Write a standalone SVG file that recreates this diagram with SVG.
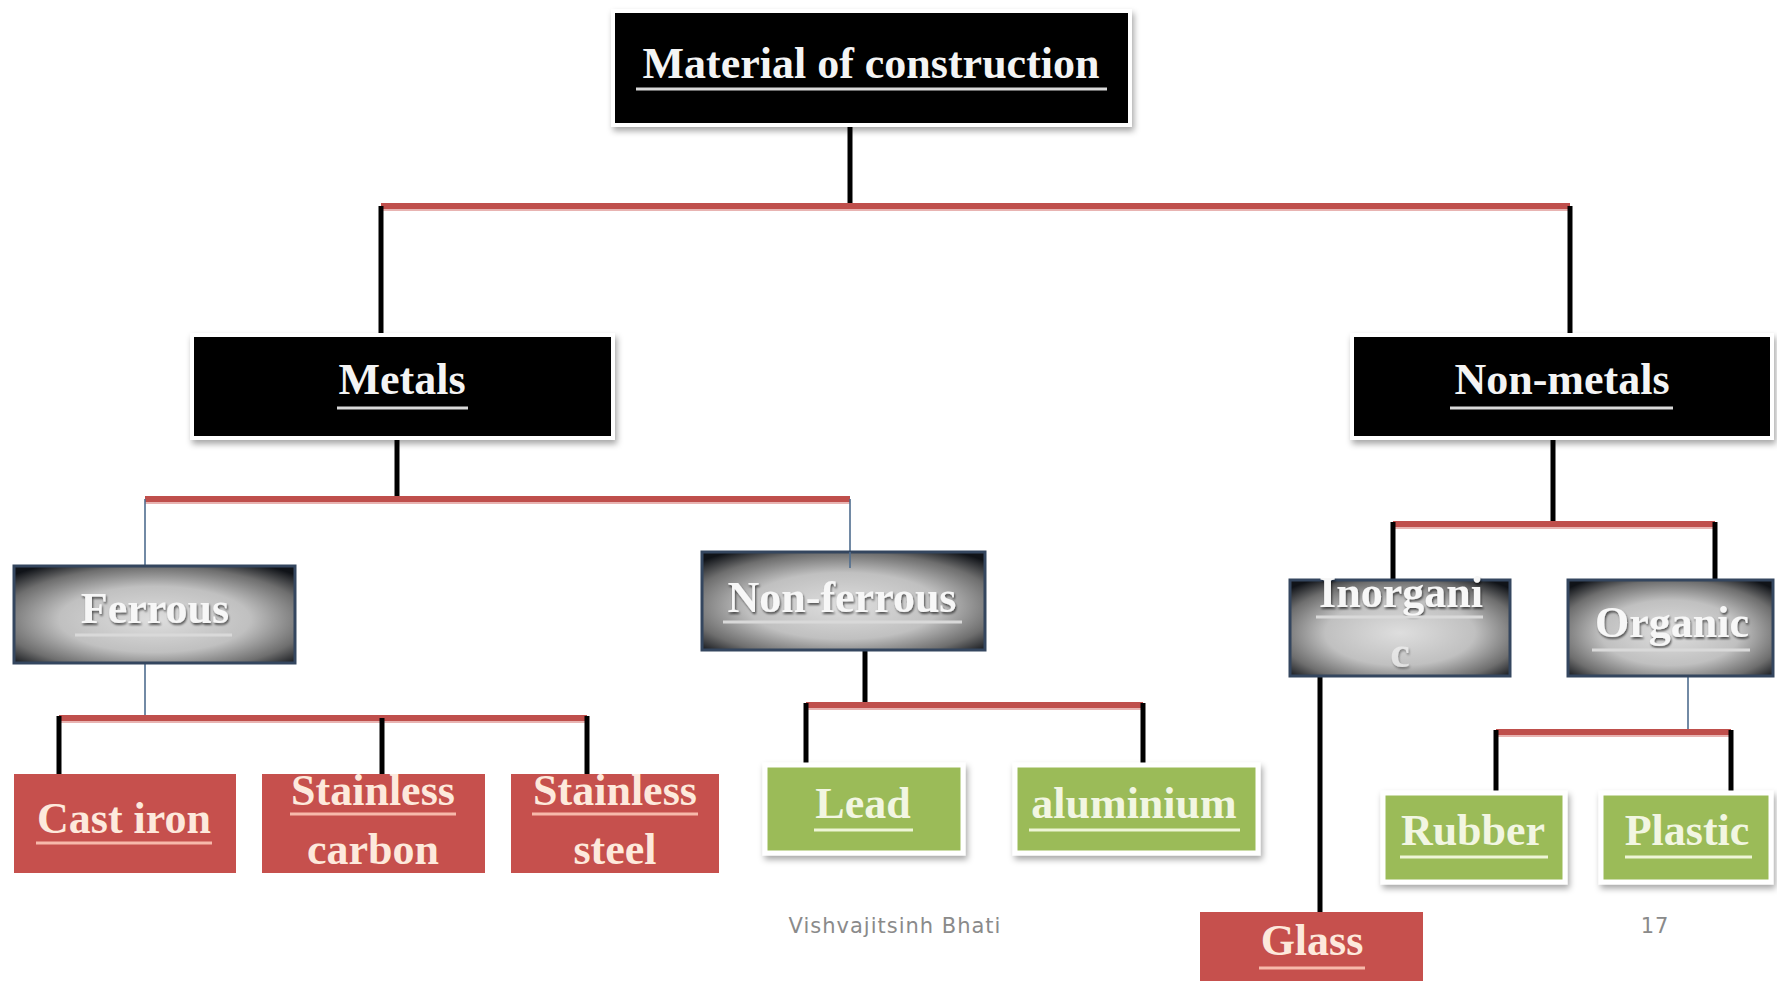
<svg xmlns="http://www.w3.org/2000/svg" width="1777" height="981" viewBox="0 0 1777 981">
<defs>
<radialGradient id="grad" cx="50%" cy="55%" r="68%" fx="50%" fy="55%">
<stop offset="0" stop-color="#dedede"/>
<stop offset="0.5" stop-color="#c0c0c0"/>
<stop offset="0.8" stop-color="#6e6e6e"/>
<stop offset="1" stop-color="#101318"/>
</radialGradient>
<filter id="shadow" x="-10%" y="-10%" width="120%" height="130%">
<feDropShadow dx="2" dy="4" stdDeviation="3" flood-color="#000" flood-opacity="0.35"/>
</filter>
<filter id="tshadow" x="-10%" y="-20%" width="120%" height="150%">
<feDropShadow dx="1" dy="2" stdDeviation="1" flood-color="#000" flood-opacity="0.6"/>
</filter>
</defs>
<style>
.lbl{font-family:"Liberation Serif","Times New Roman",serif;font-weight:bold;font-size:44px;text-anchor:middle}
.w{fill:#f4f4f4}
.g{fill:#f2f6e2}
.r{fill:#fde9dc}
.gt{fill:#f7f7f7;filter:url(#tshadow)}
.blk{fill:#000;stroke:#fff;stroke-width:4;filter:url(#shadow)}
.grd{fill:url(#grad);stroke:#34465f;stroke-width:3}
.red{fill:#c6504d}
.grn{fill:#9bbb59;stroke:#fff;stroke-width:5;filter:url(#shadow)}
.ul{stroke-width:3;fill:none}
.ulw{stroke:#d9d9d9}
.ulg{stroke:#eef5d6}
.ulr{stroke:#f7b9ab}
.redl{stroke:#bf4f4c;stroke-width:6;fill:none}
.redl2{stroke:#e8b4b2;stroke-width:2;fill:none}
.blkl{stroke:#000;stroke-width:5;fill:none}
.thin{stroke:#4f6d8f;stroke-width:1.6;fill:none}
.foot{font-family:"DejaVu Sans","Liberation Sans",sans-serif;font-size:21px;letter-spacing:1px;fill:#8a8a8a;text-anchor:middle}
</style>
<rect width="1777" height="981" fill="#fff"/>

<g id="connectors">
<line class="blkl" x1="850" y1="125" x2="850" y2="206"/>
<line class="redl2" x1="381" y1="210" x2="1570" y2="210"/>
<line class="redl" x1="381" y1="206" x2="1570" y2="206"/>
<line class="blkl" x1="381" y1="206" x2="381" y2="334"/>
<line class="blkl" x1="1570" y1="206" x2="1570" y2="334"/>

<line class="blkl" x1="397" y1="438" x2="397" y2="499"/>
<line class="redl2" x1="145" y1="503" x2="850" y2="503"/>
<line class="redl" x1="145" y1="499" x2="850" y2="499"/>
<line class="thin" x1="145" y1="499" x2="145" y2="566"/>
<line class="thin" x1="850" y1="499" x2="850" y2="570"/>
<line class="thin" x1="145" y1="663" x2="145" y2="718"/>

<line class="redl2" x1="59" y1="722" x2="587" y2="722"/>
<line class="redl" x1="59" y1="718" x2="587" y2="718"/>
<line class="blkl" x1="59" y1="716" x2="59" y2="774"/>
<line class="blkl" x1="382" y1="718" x2="382" y2="774"/>
<line class="blkl" x1="587" y1="716" x2="587" y2="774"/>

<line class="blkl" x1="865" y1="650" x2="865" y2="705"/>
<line class="redl2" x1="806" y1="709" x2="1143" y2="709"/>
<line class="redl" x1="806" y1="705" x2="1143" y2="705"/>
<line class="blkl" x1="806" y1="703" x2="806" y2="765"/>
<line class="blkl" x1="1143" y1="703" x2="1143" y2="765"/>

<line class="blkl" x1="1553" y1="438" x2="1553" y2="524"/>
<line class="redl2" x1="1393" y1="528" x2="1715" y2="528"/>
<line class="redl" x1="1393" y1="524" x2="1715" y2="524"/>
<line class="blkl" x1="1393" y1="522" x2="1393" y2="580"/>
<line class="blkl" x1="1715" y1="522" x2="1715" y2="580"/>

<line class="blkl" x1="1320" y1="676" x2="1320" y2="912"/>

<line class="thin" x1="1688" y1="676" x2="1688" y2="732"/>
<line class="redl2" x1="1496" y1="736" x2="1731" y2="736"/>
<line class="redl" x1="1496" y1="732" x2="1731" y2="732"/>
<line class="blkl" x1="1496" y1="730" x2="1496" y2="792"/>
<line class="blkl" x1="1731" y1="730" x2="1731" y2="792"/>
</g>

<g id="material">
<rect class="blk" x="613" y="11" width="517" height="114"/>
<text class="lbl w" x="871" y="78">Material of construction</text>
<line class="ul ulw" x1="636" y1="89" x2="1107" y2="89"/>
</g>

<g id="metals">
<rect class="blk" x="192" y="335" width="421" height="103"/>
<text class="lbl w" x="402" y="394">Metals</text>
<line class="ul ulw" x1="337" y1="408" x2="468" y2="408"/>
</g>

<g id="non-metals">
<rect class="blk" x="1352" y="335" width="420" height="103"/>
<text class="lbl w" x="1562" y="394">Non-metals</text>
<line class="ul ulw" x1="1450" y1="408" x2="1673" y2="408"/>
</g>

<g id="ferrous">
<rect class="grd" x="14" y="566" width="281" height="97"/>
<text class="lbl gt" x="155" y="623">Ferrous</text>
<line class="ul ulw" x1="75" y1="635" x2="232" y2="635"/>
</g>

<g id="non-ferrous">
<rect class="grd" x="702" y="552" width="283" height="98"/>
<line class="thin" x1="850" y1="552" x2="850" y2="568"/>
<text class="lbl gt" x="842" y="612">Non-ferrous</text>
<line class="ul ulw" x1="723" y1="622" x2="962" y2="622"/>
</g>

<g id="inorganic">
<rect class="grd" x="1290" y="580" width="220" height="96"/>
<text class="lbl gt" x="1401" y="607">Inorgani</text>
<line class="ul ulw" x1="1316" y1="617" x2="1483" y2="617"/>
<text class="lbl gt" x="1400" y="667" opacity="0.6">c</text>
</g>

<g id="organic">
<rect class="grd" x="1568" y="580" width="205" height="96"/>
<text class="lbl gt" x="1672" y="637">Organic</text>
<line class="ul ulw" x1="1592" y1="650" x2="1750" y2="650"/>
</g>

<g id="cast-iron">
<rect class="red" x="14" y="774" width="222" height="99"/>
<text class="lbl r" x="124" y="833">Cast iron</text>
<line class="ul ulr" x1="36" y1="843" x2="212" y2="843"/>
</g>

<g id="stainless-carbon">
<rect class="red" x="262" y="774" width="223" height="99"/>
<text class="lbl r" x="373" y="805">Stainless</text>
<line class="ul ulr" x1="290" y1="814" x2="456" y2="814"/>
<text class="lbl r" x="373" y="864">carbon</text>
</g>

<g id="stainless-steel">
<rect class="red" x="511" y="774" width="208" height="99"/>
<text class="lbl r" x="615" y="805">Stainless</text>
<line class="ul ulr" x1="532" y1="814" x2="698" y2="814"/>
<text class="lbl r" x="615" y="864">steel</text>
</g>

<g id="lead">
<rect class="grn" x="765" y="765" width="198" height="88"/>
<text class="lbl g" x="863" y="818">Lead</text>
<line class="ul ulg" x1="814" y1="830" x2="913" y2="830"/>
</g>

<g id="aluminium">
<rect class="grn" x="1015" y="765" width="243" height="88"/>
<text class="lbl g" x="1134" y="818">aluminium</text>
<line class="ul ulg" x1="1029" y1="830" x2="1240" y2="830"/>
</g>

<g id="rubber">
<rect class="grn" x="1383" y="793" width="182" height="89"/>
<text class="lbl g" x="1473" y="845">Rubber</text>
<line class="ul ulg" x1="1400" y1="857" x2="1548" y2="857"/>
</g>

<g id="plastic">
<rect class="grn" x="1601" y="793" width="170" height="89"/>
<text class="lbl g" x="1687" y="845">Plastic</text>
<line class="ul ulg" x1="1625" y1="857" x2="1752" y2="857"/>
</g>

<g id="glass">
<rect class="red" x="1200" y="912" width="223" height="75"/>
<text class="lbl r" x="1312" y="955">Glass</text>
<line class="ul ulr" x1="1259" y1="968" x2="1365" y2="968"/>
</g>

<text class="foot" x="895" y="933">Vishvajitsinh Bhati</text>
<text class="foot" x="1655" y="933">17</text>
</svg>
